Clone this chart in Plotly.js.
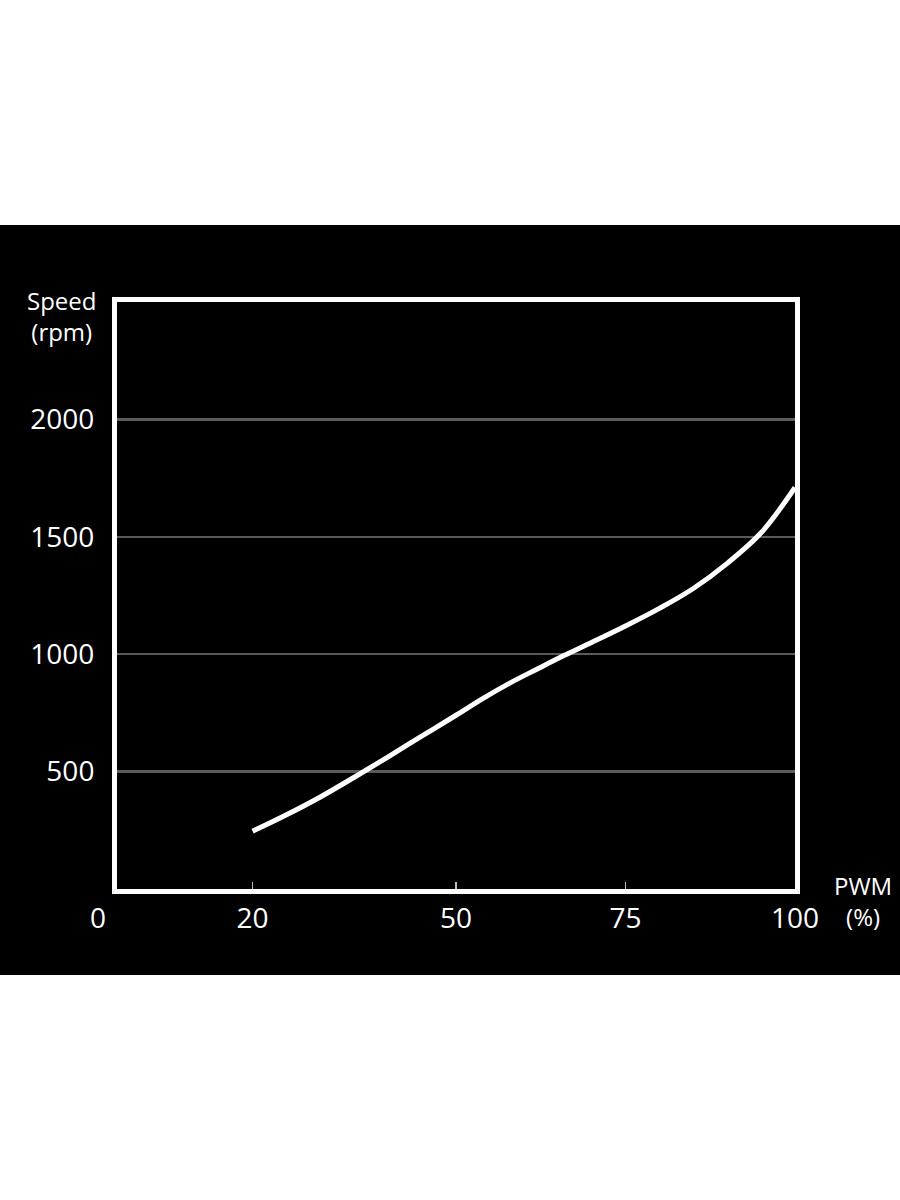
<!DOCTYPE html>
<html>
<head>
<meta charset="utf-8">
<script src="https://cdn.plot.ly/plotly-3.0.1.min.js"></script>
<style>
  html, body { margin: 0; padding: 0; background: #ffffff; width: 900px; height: 1200px; overflow: hidden; }
  #chart { position: absolute; left: 0; top: 225px; width: 900px; height: 750px; }
</style>
</head>
<body>
<div id="chart"></div>
<script>
// PWM duty (%) vs fan speed (rpm)
const pwm = [20, 25, 30, 35, 40, 45, 50, 54, 58, 62, 66, 70, 75, 80, 85, 90, 95, 100];
const rpm = [246, 316, 392, 476, 563, 652, 740, 812, 878, 937, 995, 1050, 1120, 1195, 1280, 1387, 1517, 1710];

const xTickVals = [20, 50, 75, 100];
const xTickText = ["20", "50", "75", "100"];
const yTickVals = [500, 1000, 1500, 2000];
const yTickText = ["500", "1000", "1500", "2000"];

const FONT = "'Open Sans', 'Noto Sans', sans-serif";

const trace = {
  x: pwm,
  y: rpm,
  type: 'scatter',
  mode: 'lines',
  line: { color: '#ffffff', width: 5, shape: 'spline', smoothing: 1 },
  hoverinfo: 'skip'
};

const layout = {
  width: 900,
  height: 750,
  paper_bgcolor: '#000000',
  plot_bgcolor: '#000000',
  showlegend: false,
  margin: { l: 117, r: 105, t: 77, b: 86 },
  font: { family: FONT, color: '#ffffff', size: 28 },
  xaxis: {
    range: [0, 100],
    tickvals: xTickVals,
    ticktext: xTickText,
    ticks: 'inside',
    ticklen: 7,
    tickwidth: 1.5,
    tickcolor: '#bbbbbb',
    ticklabelstandoff: 0,
    showgrid: false,
    zeroline: false,
    showline: true,
    linecolor: '#ffffff',
    linewidth: 5,
    mirror: true,
    tickfont: { family: FONT, size: 28, color: '#ffffff' },
    fixedrange: true
  },
  yaxis: {
    range: [0, 2500],
    tickvals: yTickVals,
    ticktext: yTickText,
    ticks: '',
    ticklabelstandoff: 12,
    showgrid: true,
    gridcolor: '#5a5a5a',
    gridwidth: 2.5,
    zeroline: false,
    showline: true,
    linecolor: '#ffffff',
    linewidth: 5,
    mirror: true,
    tickfont: { family: FONT, size: 28, color: '#ffffff' },
    fixedrange: true
  },
  annotations: [
    {
      text: '0', xref: 'x', yref: 'paper', x: 0, y: 0,
      xanchor: 'center', yanchor: 'middle', xshift: -19, yshift: -28,
      showarrow: false, font: { family: FONT, size: 28, color: '#ffffff' }
    },
    {
      text: 'Speed<br>(rpm)', xref: 'paper', yref: 'paper', x: -0.0812, y: 0.9755,
      xanchor: 'center', yanchor: 'middle', align: 'center',
      showarrow: false, font: { family: FONT, size: 24, color: '#ffffff' }
    },
    {
      text: 'PWM<br>(%)', xref: 'paper', yref: 'paper', x: 1.1, y: -0.0203,
      xanchor: 'center', yanchor: 'middle', align: 'center',
      showarrow: false, font: { family: FONT, size: 24, color: '#ffffff' }
    }
  ]
};

Plotly.newPlot('chart', [trace], layout, { displayModeBar: false, staticPlot: true });
</script>
</body>
</html>
